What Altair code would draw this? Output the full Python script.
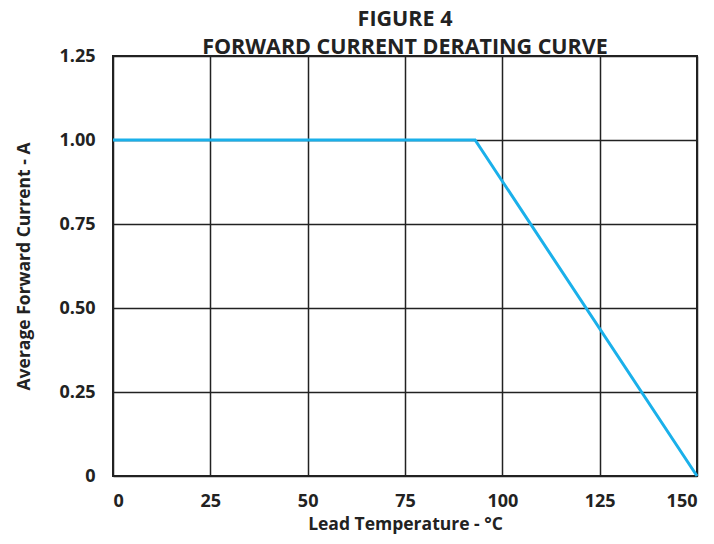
import altair as alt
import pandas as pd

temps = [0, 93, 150]
currents = [1.0, 1.0, 0.0]
x_ticks = [0, 25, 50, 75, 100, 125, 150]
y_ticks = [0, 0.25, 0.5, 0.75, 1.0, 1.25]

df = pd.DataFrame({"t": temps, "i": currents})

FONT = "Open Sans"
TXT = "#222222"

chart = alt.Chart(df).mark_line(color="#1ab0ea", strokeWidth=3).encode(
    x=alt.X("t:Q", scale=alt.Scale(domain=[0, 150], nice=False),
            axis=alt.Axis(values=x_ticks, title="Lead Temperature - °C",
                          labelPadding=16, titlePadding=5, ticks=False, domain=False,
                          grid=True, gridColor=TXT, gridWidth=1.5,
                          labelFont=FONT, labelFontSize=18, labelFontWeight="bold", labelColor=TXT,
                          titleFont=FONT, titleFontSize=17.5, titleFontWeight="bold", titleColor=TXT)),
    y=alt.Y("i:Q", scale=alt.Scale(domain=[0, 1.25], nice=False),
            axis=alt.Axis(values=y_ticks, title="Average Forward Current - A",
                          labelExpr="datum.value == 0 ? '0' : format(datum.value, '.2f')",
                          labelPadding=18, titlePadding=25, ticks=False, domain=False,
                          grid=True, gridColor=TXT, gridWidth=1.5,
                          labelFont=FONT, labelFontSize=18, labelFontWeight="bold", labelColor=TXT,
                          titleFont=FONT, titleFontSize=17.5, titleFontWeight="bold", titleColor=TXT)),
).properties(
    width=584,
    height=420,
    autosize=alt.AutoSizeParams(type="none"),
    padding={"left": 105, "top": 48, "right": 9, "bottom": 60},
    title=alt.TitleParams(text=["FIGURE 4", "FORWARD CURRENT DERATING CURVE"],
                          font=FONT, fontSize=21.5, fontWeight="bold", color=TXT,
                          anchor="middle", offset=-11, lineHeight=28),
).configure_view(stroke=TXT, strokeWidth=2)

chart.save("out.html", embed_options={"renderer": "svg", "actions": False})
